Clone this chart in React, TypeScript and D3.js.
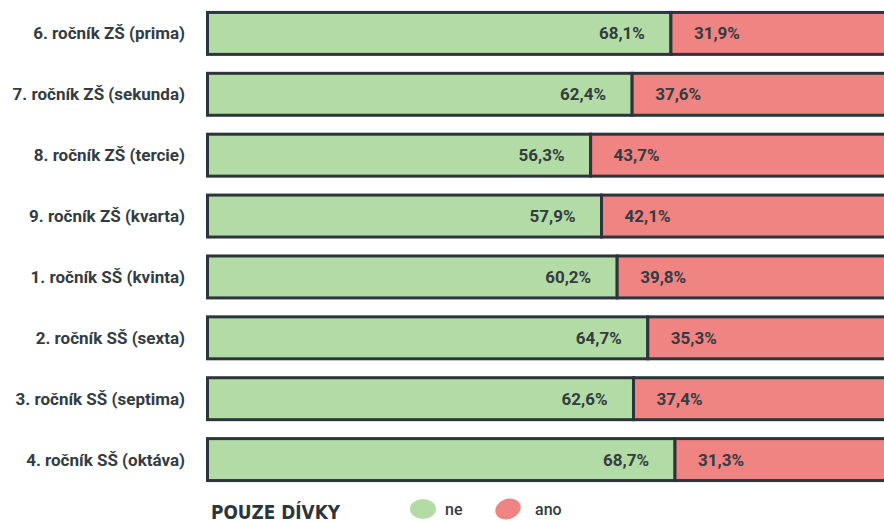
import React from "react";
import * as d3 from "d3";

const categories = [
  "6. ročník ZŠ (prima)",
  "7. ročník ZŠ (sekunda)",
  "8. ročník ZŠ (tercie)",
  "9. ročník ZŠ (kvarta)",
  "1. ročník SŠ (kvinta)",
  "2. ročník SŠ (sexta)",
  "3. ročník SŠ (septima)",
  "4. ročník SŠ (oktáva)",
];
const ne = [68.1, 62.4, 56.3, 57.9, 60.2, 64.7, 62.6, 68.7];
const ano = [31.9, 37.6, 43.7, 42.1, 39.8, 35.3, 37.4, 31.3];
const seriesNames = ["ne", "ano"];
const title = "POUZE DÍVKY";

const GREEN = "#b3dba5";
const RED = "#f08482";
const STROKE = "#2b353b";
const TEXT = "#333c41";

export default function App() {
  const W = 884, H = 521;
  const x = d3.scaleLinear().domain([0, 100]).range([207.5, 888]);
  const y = d3.scaleBand().domain(categories).range([3, 490]).paddingInner(0.311).paddingOuter(0.155);
  const fmt = (v: number) => v.toFixed(1).replace(".", ",") + "%";
  return (
    <svg width={W} height={H} style={{ position: "absolute", left: 0, top: 0 }} fontFamily="Roboto, sans-serif">
      {categories.map((c, i) => {
        const y0 = y(c)!;
        const bh = y.bandwidth();
        const split = x(ne[i]);
        return (
          <g key={c}>
            <text x={185} y={y0 + bh / 2} dy="0.35em" textAnchor="end" fontSize={17} fontWeight={700} fill={TEXT}>{c}</text>
            <rect x={x(0)} y={y0} width={split - x(0)} height={bh} fill={GREEN} stroke={STROKE} strokeWidth={3} />
            <rect x={split} y={y0} width={x(100) - split} height={bh} fill={RED} stroke={STROKE} strokeWidth={3} />
            <text x={split - 26} y={y0 + bh / 2} dy="0.35em" textAnchor="end" fontSize={17} fontWeight={700} fill={TEXT}>{fmt(ne[i])}</text>
            <text x={split + 23} y={y0 + bh / 2} dy="0.35em" textAnchor="start" fontSize={17} fontWeight={700} fill={TEXT}>{fmt(ano[i])}</text>
          </g>
        );
      })}
      <text x={211} y={519} textLength={129} lengthAdjust="spacingAndGlyphs" fontFamily="'DejaVu Sans Condensed', 'DejaVu Sans', sans-serif" fontWeight={700} fontSize={20} fill={STROKE}>{title}</text>
      <ellipse cx={423} cy={509} rx={13} ry={10} fill={GREEN} />
      <text x={445} y={509} dy="0.35em" fontSize={16} fontWeight={500} fill={TEXT}>{seriesNames[0]}</text>
      <ellipse cx={508} cy={509} rx={13} ry={10} fill={RED} transform="rotate(-20 508 509)" />
      <text x={535} y={509} dy="0.35em" fontSize={16} fontWeight={500} fill={TEXT}>{seriesNames[1]}</text>
    </svg>
  );
}
